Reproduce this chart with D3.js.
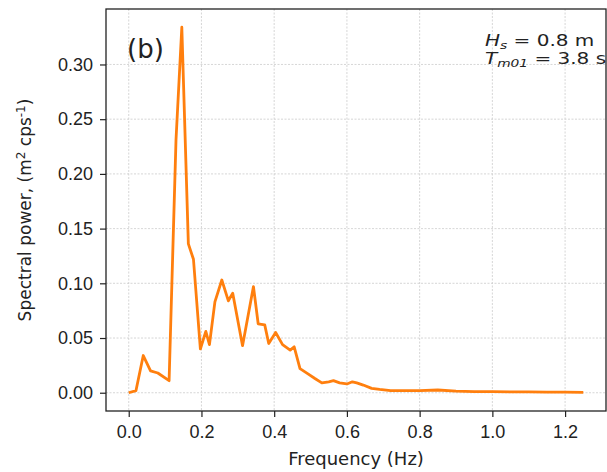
<!DOCTYPE html>
<html>
<head>
<meta charset="utf-8">
<script src="https://cdn.jsdelivr.net/npm/d3@7"></script>
<style>
  body { margin: 0; background: #fff; }
  svg { font-family: "DejaVu Sans", sans-serif; }
</style>
</head>
<body>
<svg id="chart" width="607" height="472"></svg>
<script>
// Spectrum
const freq = [0, 0.02, 0.04, 0.06, 0.08, 0.111, 0.13, 0.146, 0.164, 0.178, 0.197, 0.212, 0.222, 0.237,
  0.256, 0.274, 0.286, 0.313, 0.343, 0.356, 0.374, 0.385, 0.404, 0.423, 0.444, 0.455, 0.471, 0.494,
  0.512, 0.531, 0.55, 0.563, 0.58, 0.6, 0.615, 0.627, 0.645, 0.668, 0.69, 0.72, 0.76, 0.8, 0.85,
  0.9, 0.95, 1.0, 1.05, 1.1, 1.15, 1.2, 1.25];
const power = [0, 0.002, 0.034, 0.02, 0.018, 0.011, 0.231, 0.334, 0.136, 0.122, 0.04, 0.056, 0.044, 0.083,
  0.103, 0.084, 0.091, 0.043, 0.097, 0.063, 0.062, 0.045, 0.055, 0.044, 0.039, 0.042, 0.022, 0.017,
  0.013, 0.009, 0.01, 0.011, 0.009, 0.008, 0.01, 0.009, 0.007, 0.004, 0.003, 0.002, 0.002, 0.002, 0.0025,
  0.0015, 0.001, 0.001, 0.0008, 0.0007, 0.0005, 0.0005, 0.0003];
const xTicks = [0, 0.2, 0.4, 0.6, 0.8, 1.0, 1.2];
const yTicks = [0, 0.05, 0.10, 0.15, 0.20, 0.25, 0.30];

const svg = d3.select("#chart");
const pLeft = 106, pRight = 606, pTop = 9, pBottom = 411;

const x = d3.scaleLinear().domain([-0.0625, 1.3125]).range([pLeft, pRight]);
const y = d3.scaleLinear().domain([-0.0167, 0.3507]).range([pBottom, pTop]);

// grid
const grid = svg.append("g").attr("stroke", "#b8b8b8").attr("stroke-width", 0.8)
  .attr("stroke-dasharray", "2,1.5").attr("opacity", 0.7);
grid.selectAll(".gx").data(xTicks).enter().append("line")
  .attr("x1", d => x(d)).attr("x2", d => x(d)).attr("y1", pTop).attr("y2", pBottom);
grid.selectAll(".gy").data(yTicks).enter().append("line")
  .attr("y1", d => y(d)).attr("y2", d => y(d)).attr("x1", pLeft).attr("x2", pRight);

// line
const pts = freq.map((f, i) => [f, power[i]]);
svg.append("path")
  .datum(pts)
  .attr("fill", "none")
  .attr("stroke", "#ff7f0e")
  .attr("stroke-width", 2.8)
  .attr("stroke-linejoin", "round")
  .attr("d", d3.line().x(d => x(d[0])).y(d => y(d[1])));

// axes
const xAxis = d3.axisBottom(x).tickValues(xTicks).tickFormat(d3.format(".1f")).tickSize(6).tickPadding(8);
const yAxis = d3.axisLeft(y).tickValues(yTicks).tickFormat(d3.format(".2f")).tickSize(6).tickPadding(7);

const gx = svg.append("g").attr("transform", `translate(0,${pBottom})`).call(xAxis);
const gy = svg.append("g").attr("transform", `translate(${pLeft},0)`).call(yAxis);
[gx, gy].forEach(g => {
  g.select(".domain").remove();
  g.selectAll("line").attr("stroke", "#222").attr("stroke-width", 1.2);
  g.selectAll("text").attr("fill", "#222").style("font-size", "18px");
});

// frame
svg.append("rect").attr("x", pLeft).attr("y", pTop).attr("width", pRight - pLeft).attr("height", pBottom - pTop)
  .attr("fill", "none").attr("stroke", "#222").attr("stroke-width", 1.3);

// labels
svg.append("text").attr("x", (pLeft + pRight) / 2).attr("y", 465).attr("text-anchor", "middle")
  .style("font-size", "18px").attr("fill", "#222").text("Frequency (Hz)");

const yl = svg.append("text").attr("transform", "translate(31,210) rotate(-90)")
  .attr("text-anchor", "middle").style("font-size", "17px").attr("fill", "#222");
yl.append("tspan").text("Spectral power, (m");
yl.append("tspan").attr("dy", -6).style("font-size", "12px").text("2");
yl.append("tspan").attr("dy", 6).text(" cps");
yl.append("tspan").attr("dy", -6).style("font-size", "12px").text("-1");
yl.append("tspan").attr("dy", 6).text(")");

svg.append("text").attr("x", 127).attr("y", 58).style("font-size", "26px").attr("fill", "#222").text("(b)");

// Hs / Tm01 note, glyphs look wide in the reference
const ann = svg.append("g").style("font-size", "16px").attr("fill", "#222")
  .attr("transform", "translate(485,0) scale(1.25,1) translate(-485,0)");
const a1 = ann.append("text").attr("x", 485).attr("y", 46);
a1.append("tspan").style("font-style", "italic").text("H");
a1.append("tspan").attr("dy", 3).style("font-style", "italic").style("font-size", "11px").text("s");
a1.append("tspan").attr("dy", -3).text(" = 0.8 m");
const a2 = ann.append("text").attr("x", 485).attr("y", 64);
a2.append("tspan").style("font-style", "italic").text("T");
a2.append("tspan").attr("dy", 3).style("font-style", "italic").style("font-size", "11px").text("m01");
a2.append("tspan").attr("dy", -3).text(" = 3.8 s");
</script>
</body>
</html>
